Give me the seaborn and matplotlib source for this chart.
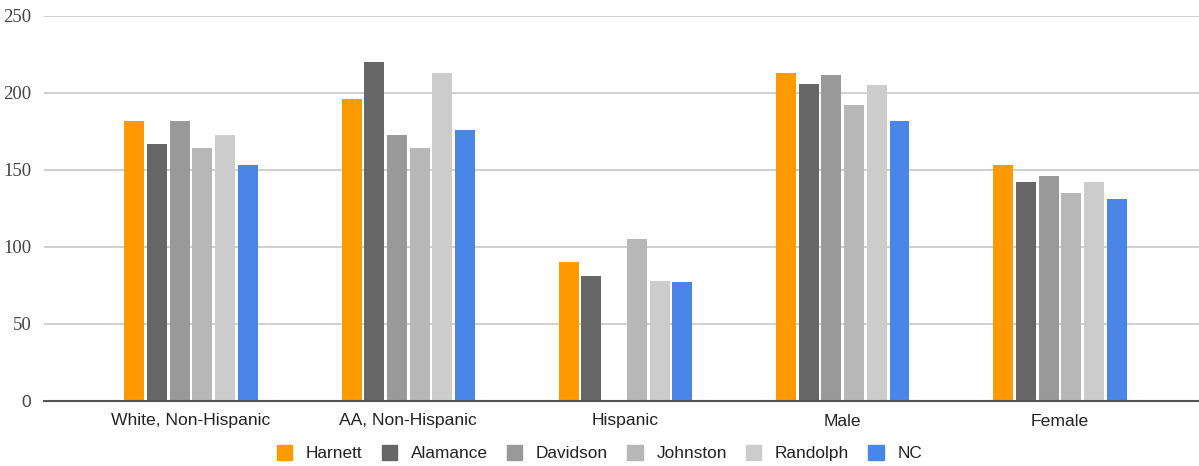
import pandas as pd
import numpy as np
import matplotlib.pyplot as plt
import matplotlib.patches as mpatches
import seaborn as sns

grupos = ['White, Non-Hispanic', 'AA, Non-Hispanic', 'Hispanic', 'Male', 'Female']
condados = ['Harnett', 'Alamance', 'Davidson', 'Johnston', 'Randolph', 'NC']

harnett = [182, 196, 90, 213, 153]
alamance = [167, 220, 81, 206, 142]
davidson = [182, 173, 0, 212, 146]
johnston = [164, 164, 105, 192, 135]
randolph = [173, 213, 78, 205, 142]
nc = [153, 176, 77, 182, 131]

cores = ['#ff9900', '#666666', '#999999', '#b7b7b7', '#cccccc', '#4a86e8']
ticks_y = [0, 50, 100, 150, 200, 250]

valores = [harnett, alamance, davidson, johnston, randolph, nc]
linhas = []
for condado, serie in zip(condados, valores):
    for grupo, v in zip(grupos, serie):
        linhas.append({'grupo': grupo, 'condado': condado, 'valor': v})
df = pd.DataFrame(linhas)

sns.set_theme(style='white')
plt.rcParams['font.family'] = ['Liberation Sans', 'DejaVu Sans']

fig = plt.figure(figsize=(11.99, 4.66), dpi=100)
ax = fig.add_axes([44 / 1199, 1 - 401 / 466, 1 - 44 / 1199, 385 / 466])

sns.barplot(data=df, x='grupo', y='valor', hue='condado', order=grupos,
            hue_order=condados, palette=cores, width=0.627, gap=0.12,
            errorbar=None, ax=ax, legend=False, linewidth=0, saturation=1)

ax.set_ylim(0, 250)
ax.set_xlim(-0.677, 4.64)
ax.set_yticks(ticks_y)
ax.yaxis.grid(True, color='#cccccc', linewidth=1.3)
ax.set_axisbelow(True)
for s in ['top', 'right', 'left']:
    ax.spines[s].set_visible(False)
ax.spines['bottom'].set_color('#555555')
ax.spines['bottom'].set_linewidth(1.5)
ax.spines['bottom'].set_zorder(5)
ax.set_xlabel('')
ax.set_ylabel('')
ax.tick_params(axis='both', length=0)
ax.tick_params(axis='y', pad=9)
ax.tick_params(axis='x', pad=9)
for lbl in ax.get_xticklabels():
    lbl.set_fontsize(12.6)
    lbl.set_color('#222222')
for lbl in ax.get_yticklabels():
    lbl.set_fontfamily('Liberation Serif')
    lbl.set_fontsize(13.5)
    lbl.set_color('#444444')
ax.get_yticklabels()[0].set_fontfamily('Liberation Sans')
ax.get_yticklabels()[0].set_fontsize(12.6)

handles = [mpatches.Patch(color=c, label=n) for c, n in zip(cores, condados)]
fig.legend(handles=handles, loc='center', bbox_to_anchor=(0.5, 1 - 453 / 466),
           ncol=6, frameon=False, fontsize=12.4, handlelength=0.9, handleheight=0.95,
           handletextpad=0.8, columnspacing=1.1, labelcolor='#222222')

fig.savefig('out.png', dpi=100)
